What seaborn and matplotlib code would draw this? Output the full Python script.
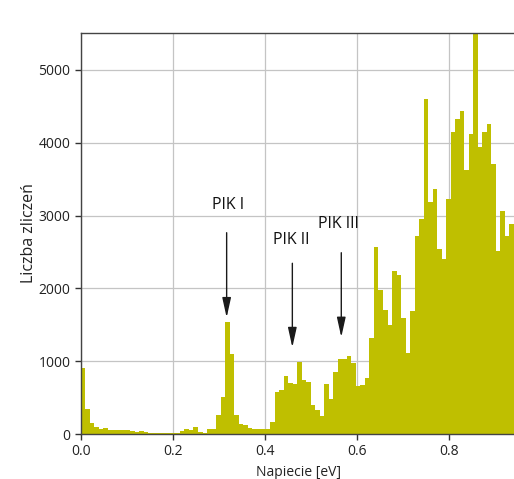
import numpy as np
import pandas as pd
import matplotlib
matplotlib.use("Agg")
import matplotlib.pyplot as plt
import seaborn as sns

# ---- data ----
bin_width = 0.0098
counts = [
    911, 339, 155, 100, 64, 87, 55, 52, 52, 60, 60, 46, 27, 37, 27, 18, 18, 9, 9, 9, 14,
    20, 45, 70, 60, 90, 25, 7, 73, 73,
    261, 513, 1534, 1094, 266, 137, 128, 87, 64, 64,
    62, 64, 165, 581, 604, 797, 705, 682, 993, 742,
    719, 394, 330, 252, 682, 476, 856, 1026, 1026, 1071,
    971, 659, 673, 765, 1314, 2564, 1978, 1703, 1497, 2239,
    2184, 1589, 1117, 1694, 2720, 2949, 4602, 3191, 3365, 2546,
    2400, 3228, 4153, 4327, 4441, 3631, 4125, 5700, 3947, 4148,
    4258, 3709, 2514, 3067, 2720, 2885,
]
peak_labels = ["PIK I", "PIK II", "PIK III"]
peak_x = [0.317, 0.4597, 0.566]
peak_tip = [1600, 1190, 1330]
peak_start = [2765, 2345, 2490]
peak_text_x = [0.319, 0.458, 0.560]
peak_text_y = [3146, 2665, 2880]
yticks = [0, 1000, 2000, 3000, 4000, 5000]
xticks = [0.0, 0.2, 0.4, 0.6, 0.8]

n_bins = len(counts)
centers = (np.arange(n_bins) + 0.5) * bin_width
df = pd.DataFrame({"napiecie": centers, "liczba": counts})

sns.set_style("ticks", {"axes.grid": True})
plt.rcParams["font.family"] = ["Open Sans", "DejaVu Sans"]

fig = plt.figure(figsize=(5.14, 4.79), dpi=100)
ax = fig.add_axes([80.7 / 514, 45 / 479, 436.3 / 514, 401 / 479])

sns.histplot(data=df, x="napiecie", weights="liczba",
             binwidth=bin_width, binrange=(0, n_bins * bin_width),
             color=(0.75, 0.75, 0.0), alpha=1, linewidth=0, ax=ax)

ax.set_xlim(0, 436.3 / 460.4)
ax.set_ylim(0, 5508)
ax.set_xticks(xticks)
ax.set_yticks(yticks)
ax.set_xticklabels([f"{t:.1f}" for t in xticks])
ax.grid(True, color="#c4c4c4", linewidth=0.9)
ax.set_axisbelow(True)
for s in ax.spines.values():
    s.set_visible(True)
    s.set_color("#444444")
    s.set_linewidth(1.0)
ax.tick_params(direction="out", length=4, width=1, color="#333333",
               labelsize=10, labelcolor="#222222")

ax.set_xlabel("Napiecie [eV]", fontsize=10, color="#222222")
ax.set_ylabel("Liczba zliczeń", fontsize=11.5, color="#222222", labelpad=1)

for lab, x, tip, st, tx, ty in zip(peak_labels, peak_x, peak_tip, peak_start,
                                    peak_text_x, peak_text_y):
    ax.annotate("", xy=(x, tip), xytext=(x, st),
                arrowprops=dict(arrowstyle="-|>,head_width=0.22,head_length=1.0",
                                color="#1a1a1a", lw=1.0, mutation_scale=12,
                                shrinkA=0, shrinkB=0))
    ax.text(tx, ty, lab, ha="center", va="center", fontsize=11.5,
            color="#111111", family=["Open Sans", "DejaVu Sans"])

fig.savefig("out.png", dpi=100)
